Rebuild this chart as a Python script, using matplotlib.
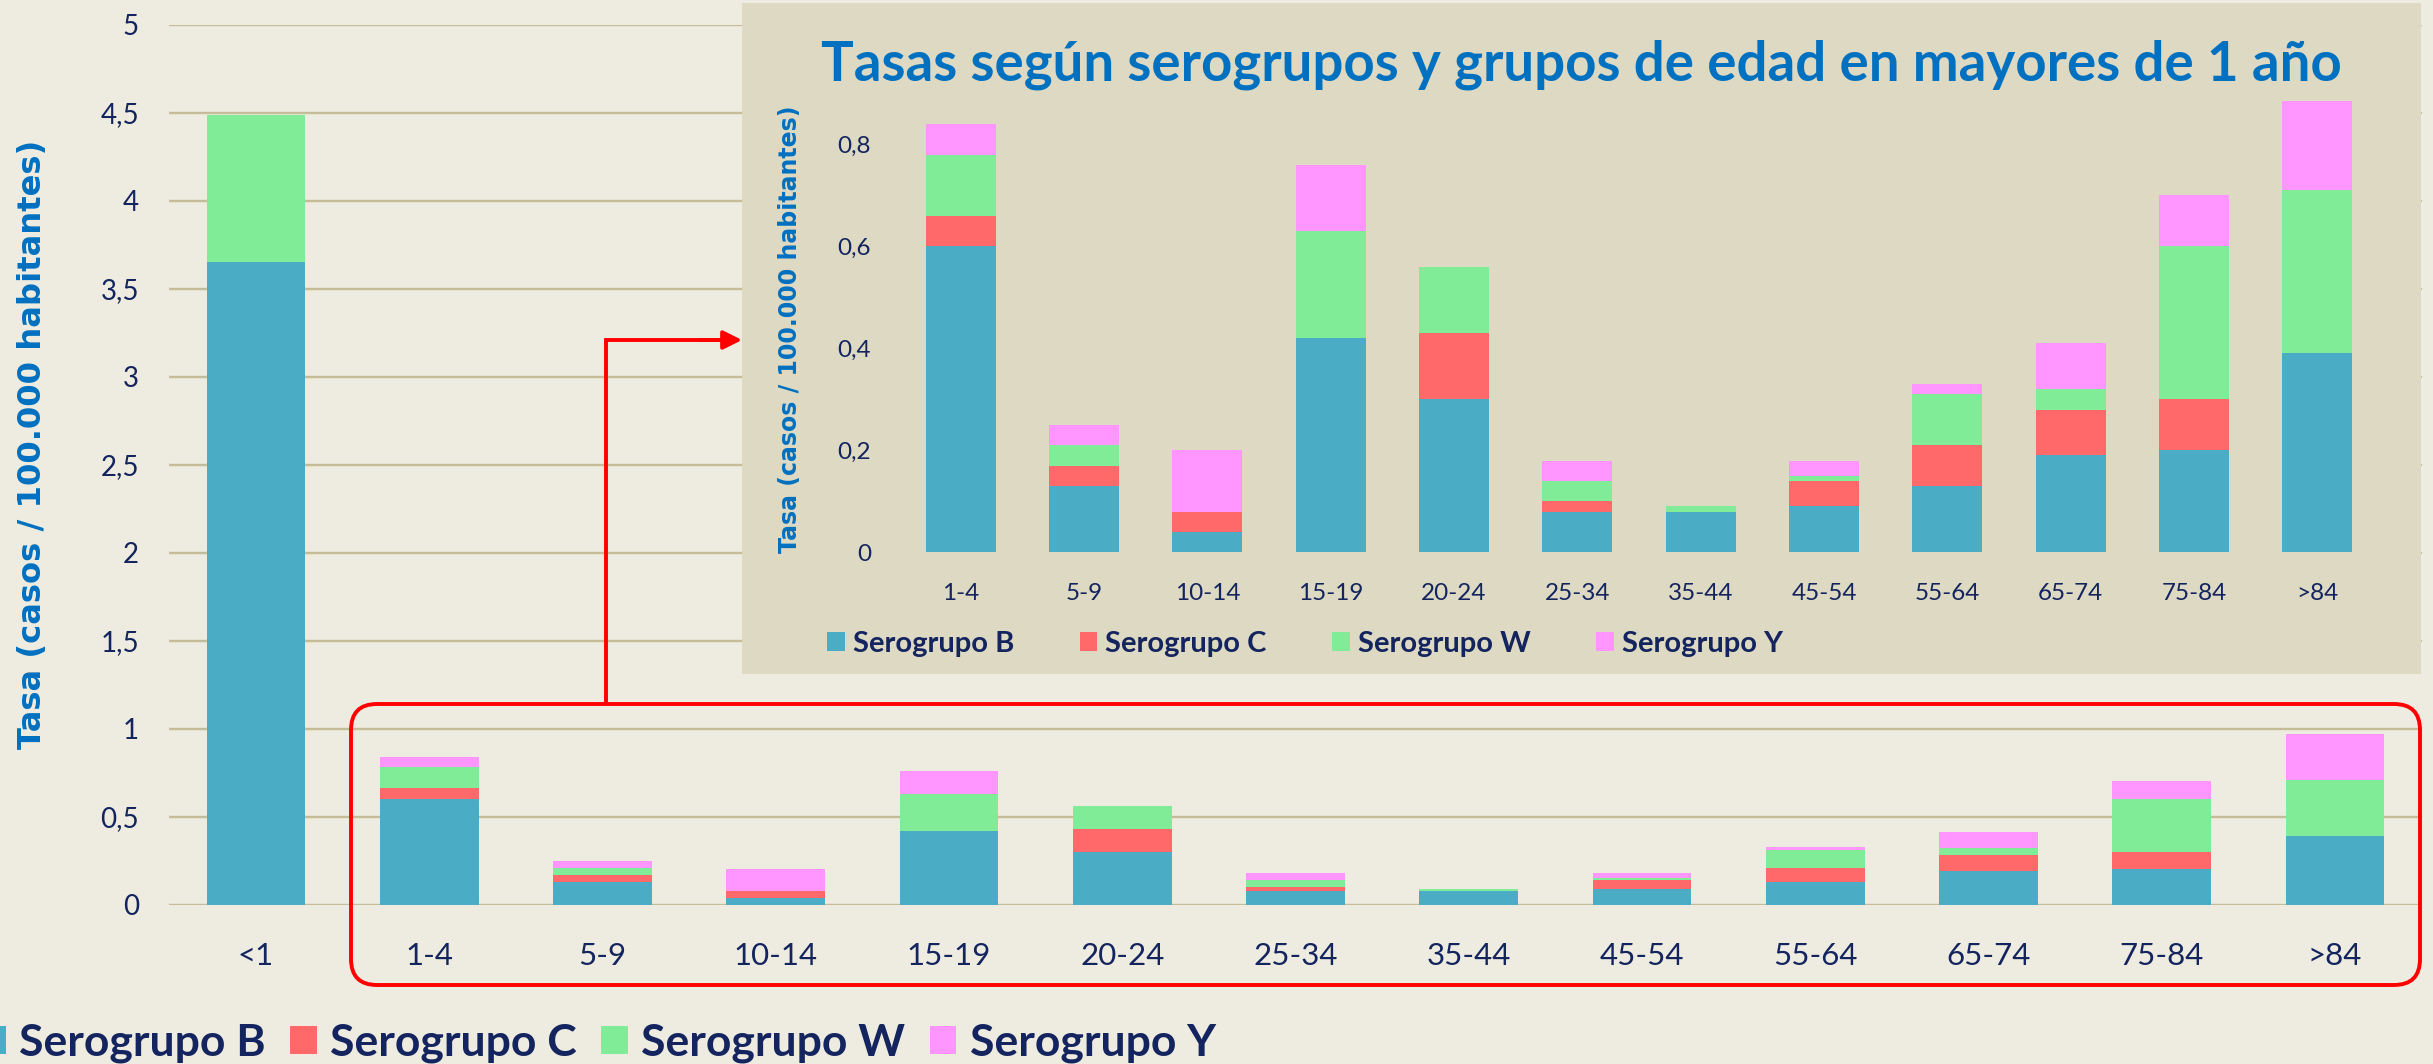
import numpy as np
import matplotlib.pyplot as plt
from matplotlib.patches import Patch, Rectangle, FancyBboxPatch
from matplotlib.ticker import FuncFormatter, MultipleLocator

# Tasas (casos / 100.000 habitantes) por grupo de edad y serogrupo
grupos = ['<1', '1-4', '5-9', '10-14', '15-19', '20-24', '25-34',
          '35-44', '45-54', '55-64', '65-74', '75-84', '>84']
sero_b = [3.65, 0.60, 0.13, 0.04, 0.42, 0.30, 0.08, 0.08, 0.09, 0.13, 0.19, 0.20, 0.39]
sero_c = [0.00, 0.06, 0.04, 0.04, 0.00, 0.13, 0.02, 0.00, 0.05, 0.08, 0.09, 0.10, 0.00]
sero_w = [0.84, 0.12, 0.04, 0.00, 0.21, 0.13, 0.04, 0.01, 0.01, 0.10, 0.04, 0.30, 0.32]
sero_y = [0.00, 0.06, 0.04, 0.12, 0.13, 0.00, 0.04, 0.00, 0.03, 0.02, 0.09, 0.10, 0.26]
series = ['Serogrupo B', 'Serogrupo C', 'Serogrupo W', 'Serogrupo Y']

colors = ['#4BACC6', '#FF6969', '#80EC98', '#FF96FF']
bg_main = '#EEECE1'
bg_inset = '#DDD9C3'
grid_col = '#C4BD97'
navy = '#14245E'
blue = '#0070C0'

W, H = 2433, 1064
fig = plt.figure(figsize=(W / 100, H / 100), dpi=100)
fig.patch.set_facecolor(bg_main)


def fmt(v, pos):
    return f'{v:g}'.replace('.', ',')


def stacked(ax, cats, data, width):
    x = np.arange(len(cats))
    bottom = np.zeros(len(cats))
    for vals, col in zip(data, colors):
        vals = np.asarray(vals)
        ax.bar(x, vals, width, bottom=bottom, color=col, linewidth=0)
        bottom += vals
    ax.set_xticks(x)
    ax.set_xticklabels(cats)
    ax.set_xlim(-0.5, len(cats) - 0.5)


# main chart
ax = fig.add_axes([169.4 / W, 1 - 904.6 / H, (2421.6 - 169.4) / W, (904.6 - 24.8) / H], zorder=0)
ax.set_facecolor(bg_main)
stacked(ax, grupos, [sero_b, sero_c, sero_w, sero_y], 0.57)
ax.set_ylim(0, 5)
ax.yaxis.set_major_locator(MultipleLocator(0.5))
ax.yaxis.set_major_formatter(FuncFormatter(fmt))
ax.grid(axis='y', color=grid_col, linewidth=1.7)
ax.set_axisbelow(True)
for s in ax.spines.values():
    s.set_visible(False)
ax.tick_params(axis='x', length=0, pad=27, labelsize=22.5, labelcolor=navy)
ax.tick_params(axis='y', length=0, pad=22, labelsize=20, labelcolor=navy)
for lab in ax.get_xticklabels() + ax.get_yticklabels():
    lab.set_family('Lato')
fig.text(33 / W, 1 - 444 / H, 'Tasa (casos / 100.000 habitantes)', rotation=90,
         ha='center', va='center', fontsize=23.2, fontweight='bold',
         family='DejaVu Sans', color=blue)

# overlay in pixel coordinates for the inset panel and the red callout
ov = fig.add_axes([0, 0, 1, 1], zorder=1)
ov.set_xlim(0, W)
ov.set_ylim(H, 0)
ov.axis('off')
ov.patch.set_visible(False)
ov.add_patch(Rectangle((742, 3), 2421 - 742, 674 - 3, facecolor=bg_inset, edgecolor='none'))
ov.add_patch(FancyBboxPatch((351, 704), 2420 - 351, 985 - 704,
                            boxstyle='round,pad=0,rounding_size=26',
                            facecolor='none', edgecolor='#FF0000', linewidth=2.8))
ov.plot([606, 606, 730], [704, 340, 340], color='#FF0000', linewidth=2.8,
        solid_joinstyle='miter', solid_capstyle='butt')
ov.annotate('', xy=(742, 340), xytext=(700, 340),
            arrowprops=dict(arrowstyle='-|>', color='#FF0000', lw=2.8,
                            mutation_scale=28, shrinkA=0, shrinkB=0))

# inset chart (mayores de 1 año)
ax2 = fig.add_axes([899 / W, 1 - 552.4 / H, (2379 - 899) / W, (552.4 - 101) / H], zorder=2)
ax2.patch.set_visible(False)
stacked(ax2, grupos[1:], [sero_b[1:], sero_c[1:], sero_w[1:], sero_y[1:]], 0.57)
ax2.set_ylim(0, 0.885)
ax2.yaxis.set_major_locator(MultipleLocator(0.2))
ax2.yaxis.set_major_formatter(FuncFormatter(fmt))
for s in ax2.spines.values():
    s.set_visible(False)
ax2.tick_params(axis='x', length=0, pad=22, labelsize=17.5, labelcolor=navy)
ax2.tick_params(axis='y', length=0, pad=20, labelsize=17.5, labelcolor=navy)
for lab in ax2.get_xticklabels() + ax2.get_yticklabels():
    lab.set_family('Lato')
fig.text(790 / W, 1 - 329 / H, 'Tasa (casos / 100.000 habitantes)', rotation=90,
         ha='center', va='center', fontsize=17, fontweight='bold',
         family='DejaVu Sans', color=blue, zorder=3)
fig.text(1581.5 / W, 1 - 81 / H, 'Tasas según serogrupos y grupos de edad en mayores de 1 año',
         ha='center', va='baseline', fontsize=39.3, fontweight='bold',
         family='Lato', color=blue, zorder=3)

handles = [Patch(facecolor=c, edgecolor='none') for c in colors]
leg2 = fig.legend(handles, series, ncol=4, loc='center left',
                  bbox_to_anchor=(827 / W, 1 - 644 / H), frameon=False,
                  prop=dict(family='Lato', weight='bold', size=21), labelcolor=navy,
                  handlelength=0.6, handleheight=0.6, handletextpad=0.28,
                  columnspacing=2.25, borderpad=0, borderaxespad=0)
leg2.set_zorder(3)

leg = fig.legend(handles, series, ncol=4, loc='lower left',
                 bbox_to_anchor=(-0.0086, 0.001), frameon=False,
                 prop=dict(family='Lato', weight='bold', size=32), labelcolor=navy,
                 handlelength=0.6, handleheight=0.6, handletextpad=0.3,
                 columnspacing=0.55, borderpad=0, borderaxespad=0)

fig.savefig('out.png', dpi=100, facecolor=bg_main)
